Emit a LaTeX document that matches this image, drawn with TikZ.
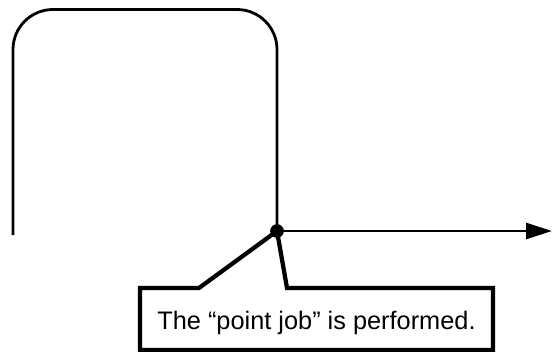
\documentclass[tikz,border=0pt]{standalone}
\usepackage{fontspec}
\setmainfont{Liberation Sans}
\usetikzlibrary{arrows.meta}

\begin{document}
\begin{tikzpicture}[x=0.75pt, y=-0.75pt, every node/.style={font=\fontsize{19}{22}\selectfont}, >={Triangle[length=19.5pt, width=12pt]}]
	\useasboundingbox (0,0) rectangle (553,351);
	\tikzset{trackline/.style={line width=2.1pt, rounded corners=30pt},
		calloutline/.style={line width=3.2pt},
		jobdot/.style={circle, fill, inner sep=0pt, minimum size=10pt}}
	\node[jobdot] (job) at (277,231) {};
	\coordinate (start) at (13,235);
	\coordinate (end) at (552,231);
	\draw[trackline] (start) -- (13,9.5) -- (277,9.5) -- (job.center);
	\draw[line width=2.1pt, ->] (job.center) -- (end);
	\coordinate (legl) at (199,288);
	\coordinate (legr) at (287,288);
	\coordinate (boxnw) at (140,288);
	\coordinate (boxse) at (493,350);
	\draw[calloutline] (legl) -- (job.center) -- (legr) -- (boxse |- boxnw) -- (boxse) -- (boxnw |- boxse) -- (boxnw) -- cycle;
	\node[jobdot] at (job) {};
	\node[anchor=base] (msg) at (316.5,329) {The “point job” is performed.};
\end{tikzpicture}
\end{document}
